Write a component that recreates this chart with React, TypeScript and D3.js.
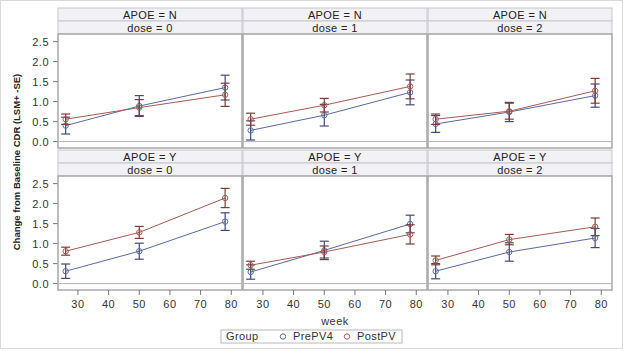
import React from 'react'
import { scaleLinear, line } from 'd3'

const weeks = [26, 50, 78]
const apoeLevels = ['N', 'Y']
const doseLevels = [0, 1, 2]
const groupNames = ['PrePV4', 'PostPV']
// panel order: N/0, N/1, N/2, Y/0, Y/1, Y/2
const preMean = [[0.40, 0.89, 1.35], [0.28, 0.66, 1.23], [0.44, 0.74, 1.15], [0.31, 0.81, 1.55], [0.29, 0.83, 1.49], [0.31, 0.79, 1.14]]
const preSE = [[0.21, 0.26, 0.31], [0.24, 0.27, 0.31], [0.21, 0.24, 0.29], [0.18, 0.20, 0.22], [0.18, 0.23, 0.22], [0.19, 0.23, 0.24]]
const postMean = [[0.56, 0.85, 1.17], [0.56, 0.91, 1.38], [0.56, 0.76, 1.27], [0.81, 1.28, 2.14], [0.46, 0.79, 1.23], [0.58, 1.10, 1.42]]
const postSE = [[0.13, 0.20, 0.29], [0.15, 0.17, 0.31], [0.13, 0.20, 0.31], [0.10, 0.15, 0.24], [0.10, 0.15, 0.24], [0.11, 0.13, 0.22]]
const yTicks = [0, 0.5, 1, 1.5, 2, 2.5]
const xTicks = [30, 40, 50, 60, 70, 80]

const colors = ['#5a68a0', '#a45a52']
const barColors = ['#3e4a7a', '#7c3d36']
const font = '"Liberation Sans", Arial, sans-serif'

const colX = [58, 243, 428]
const colW = 184
const rowTop = [8, 150]
const headH = 13
const plotH = 114

const App = () => {
  const series = [
    { mean: preMean, se: preSE },
    { mean: postMean, se: postSE },
  ]
  return (
    <svg width={624} height={351} style={{ position: 'absolute', left: 0, top: 0, background: '#fff' }} fontFamily={font}>
      <rect x={0.5} y={0.5} width={622} height={348} fill="#fff" stroke="#dadada" />
      {apoeLevels.map((apoe, r) => {
        const top = rowTop[r]
        const pTop = top + headH * 2
        const y = scaleLinear().domain([-0.16, 2.69]).range([pTop + plotH, pTop])
        return (
          <g key={apoe}>
            {yTicks.map(t => (
              <g key={t}>
                <line x1={53} x2={58} y1={y(t)} y2={y(t)} stroke="#777" />
                <text x={49} y={y(t) + 4} fontSize={11} textAnchor="end" fill="#333" letterSpacing={0.5}>{t.toFixed(1)}</text>
              </g>
            ))}
            {doseLevels.map((dose, c) => {
              const p = r * 3 + c
              const x0 = colX[c]
              const x = scaleLinear().domain([23.5, 83.5]).range([x0, x0 + colW])
              return (
                <g key={dose}>
                  <rect x={x0} y={top} width={colW} height={headH} fill="#f1f1f6" stroke="#c6c6cc" />
                  <rect x={x0} y={top + headH} width={colW} height={headH} fill="#f1f1f6" stroke="#c6c6cc" />
                  <text x={x0 + colW / 2} y={top + 10.5} fontSize={11} textAnchor="middle" fill="#222" letterSpacing={0.4}>{`APOE = ${apoe}`}</text>
                  <text x={x0 + colW / 2} y={top + headH + 10.5} fontSize={11} textAnchor="middle" fill="#222" letterSpacing={0.4}>{`dose = ${dose}`}</text>
                  <rect x={x0} y={pTop} width={colW} height={plotH} fill="#fff" stroke="#a8a8a8" strokeWidth={1.5} />
                  <line x1={x0} x2={x0 + colW} y1={y(0)} y2={y(0)} stroke="#b4b4b4" />
                  {series.map((s, g) => {
                    const pts = weeks.map((w, i) => [x(w), y(s.mean[p][i])] as [number, number])
                    return (
                      <g key={g}>
                        <path d={line()(pts) || ''} fill="none" stroke={colors[g]} strokeWidth={1} />
                        {weeks.map((w, i) => {
                          const m = s.mean[p][i]
                          const e = s.se[p][i]
                          const cx = x(w)
                          return (
                            <g key={w} stroke={barColors[g]} strokeWidth={1.2}>
                              <line x1={cx} x2={cx} y1={y(m - e)} y2={y(m + e)} />
                              <line x1={cx - 4.5} x2={cx + 4.5} y1={y(m - e)} y2={y(m - e)} />
                              <line x1={cx - 4.5} x2={cx + 4.5} y1={y(m + e)} y2={y(m + e)} />
                              <circle cx={cx} cy={y(m)} r={2.7} fill="none" stroke={colors[g]} strokeWidth={1} />
                            </g>
                          )
                        })}
                      </g>
                    )
                  })}
                  {r === 1 && xTicks.map(t => (
                    <g key={t}>
                      <line x1={x(t)} x2={x(t)} y1={pTop + plotH} y2={pTop + plotH + 5} stroke="#777" />
                      <text x={x(t)} y={pTop + plotH + 18} fontSize={11} textAnchor="middle" fill="#333" letterSpacing={0.5}>{t}</text>
                    </g>
                  ))}
                </g>
              )
            })}
          </g>
        )
      })}
      <text transform="translate(20,162) rotate(-90)" fontSize={9.5} fontWeight="bold" textAnchor="middle" fill="#222">Change from Baseline CDR (LSM+ -SE)</text>
      <text x={335} y={325} fontSize={11} textAnchor="middle" fill="#333" letterSpacing={0.5}>week</text>
      <rect x={221} y={330} width={181} height={13} fill="#fff" stroke="#b8b8b8" />
      <text x={226} y={340} fontSize={11} fill="#333" letterSpacing={0.4}>Group</text>
      {groupNames.map((name, g) => {
        const lx = [283, 347][g]
        return (
          <g key={name}>
            <circle cx={lx} cy={336.5} r={2.7} fill="none" stroke={colors[g]} />
            <text x={lx + 10} y={340} fontSize={11} fill="#333" letterSpacing={0.4}>{name}</text>
          </g>
        )
      })}
    </svg>
  )
}

export default App
